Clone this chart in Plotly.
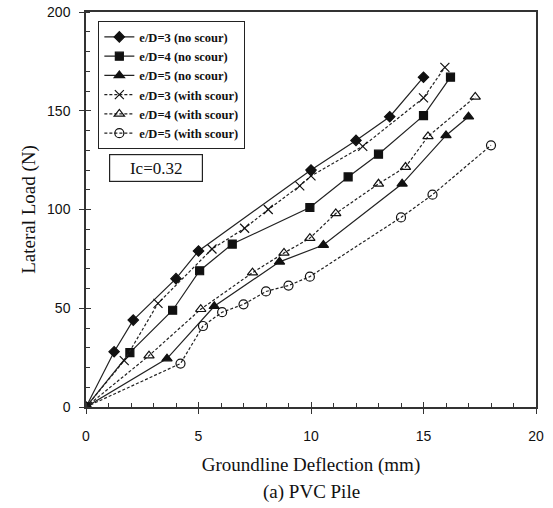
import plotly.graph_objects as go

# ---- data ----
x_ed3_ns = [0, 1.25, 2.1, 4.0, 5.0, 10.0, 12.0, 13.5, 15.0]
y_ed3_ns = [0, 28, 44, 65, 79, 120, 135, 147, 167]

x_ed4_ns = [0, 1.95, 3.85, 5.05, 6.5, 9.95, 11.65, 13.0, 15.0, 16.2]
y_ed4_ns = [0, 27.5, 49, 69, 82.5, 101, 116.5, 128, 147.5, 167]

x_ed5_ns = [0, 3.6, 5.7, 8.6, 10.55, 14.05, 16.0, 17.0]
y_ed5_ns = [0, 24.5, 51, 73.5, 82, 113, 137.5, 147]

x_ed3_ws = [0, 1.7, 3.2, 5.6, 7.05, 8.1, 9.5, 10.0, 12.3, 15.0, 15.95]
y_ed3_ws = [0, 23.5, 52.5, 80, 90.5, 100, 112, 117, 132, 156.5, 172]

x_ed4_ws = [0, 2.8, 5.1, 7.4, 8.8, 9.95, 11.1, 13.0, 14.2, 15.2, 17.3]
y_ed4_ws = [0, 26, 49.5, 68, 78, 85.5, 98, 113, 121.5, 137, 157]

x_ed5_ws = [0, 4.2, 5.2, 6.05, 7.0, 8.0, 9.0, 9.95, 14.0, 15.4, 18.0]
y_ed5_ws = [0, 22, 41, 48, 52, 58.5, 61.5, 66, 96, 107.5, 132.5]

names = ["e/D=3 (no scour)", "e/D=4 (no scour)", "e/D=5 (no scour)",
         "e/D=3 (with scour)", "e/D=4 (with scour)", "e/D=5 (with scour)"]

x_ticks = [0, 5, 10, 15, 20]
y_ticks = [0, 50, 100, 150, 200]

fig = go.Figure()

series = [
    (x_ed3_ns, y_ed3_ns, "diamond", "solid", 8),
    (x_ed4_ns, y_ed4_ns, "square", "solid", 8),
    (x_ed5_ns, y_ed5_ns, "triangle-up", "solid", 9),
    (x_ed3_ws, y_ed3_ws, "x-thin-open", "3px,2px", 9),
    (x_ed4_ws, y_ed4_ws, "triangle-up-open", "3px,2px", 9),
    (x_ed5_ws, y_ed5_ws, "circle-open", "3px,2px", 9),
]

for (xs, ys, sym, dash, sz), nm in zip(series, names):
    fig.add_trace(go.Scatter(
        x=xs, y=ys, name=nm, mode="lines+markers",
        line=dict(color="#222222", width=1.2, dash=dash),
        marker=dict(symbol=sym, size=sz, color="#111111",
                    line=dict(color="#111111", width=1.2)),
    ))

fig.add_annotation(
    x=3.09, y=121.0, xref="x", yref="y", text="Ic=0.32", showarrow=False,
    font=dict(family="Liberation Serif", size=17, color="#111111"),
    bordercolor="#222222", borderwidth=1.2, borderpad=5, bgcolor="white",
    width=82, height=16,
)

fig.add_annotation(
    x=0.5, y=-0.215, xref="paper", yref="paper", text="(a) PVC Pile",
    showarrow=False, xanchor="center", yanchor="middle",
    font=dict(family="Liberation Serif", size=19, color="#111111"),
)

axis_common = dict(
    showline=True, linecolor="#333333", linewidth=1.5, mirror=True,
    showgrid=False, zeroline=False, ticks="outside", ticklen=5,
    tickwidth=1.2, tickcolor="#333333", automargin=False,
    tickfont=dict(family="Liberation Sans", size=14, color="#111111"),
)

fig.update_xaxes(
    range=[0, 20], tickvals=x_ticks, ticktext=[str(v) for v in x_ticks],
    ticklabelstandoff=10,
    title=dict(text="Groundline Deflection (mm)", standoff=15,
               font=dict(family="Liberation Serif", size=19, color="#111111")),
    minor=dict(dtick=1, ticks="inside", ticklen=4, tickcolor="#333333", tickwidth=1),
    **axis_common,
)
fig.update_yaxes(
    range=[0, 200], tickvals=y_ticks, ticktext=[str(v) for v in y_ticks],
    ticklabelstandoff=6,
    title=dict(text="Lateral Load (N)", standoff=6,
               font=dict(family="Liberation Serif", size=19, color="#111111")),
    minor=dict(dtick=10, ticks="inside", ticklen=4, tickcolor="#333333", tickwidth=1),
    **axis_common,
)

# inner halves of the major ticks (so they cross the axis line)
fig.update_layout(
    xaxis2=dict(overlaying="x", matches="x", side="bottom", range=[0, 20],
                tickvals=x_ticks, showticklabels=False, ticks="inside",
                ticklen=5, tickwidth=1.2, tickcolor="#333333",
                showgrid=False, zeroline=False, showline=False),
    yaxis2=dict(overlaying="y", matches="y", side="left", range=[0, 200],
                tickvals=y_ticks, showticklabels=False, ticks="inside",
                ticklen=5, tickwidth=1.2, tickcolor="#333333",
                showgrid=False, zeroline=False, showline=False),
)
fig.add_trace(go.Scatter(x=[None], y=[None], xaxis="x2", yaxis="y2",
                         showlegend=False, hoverinfo="skip"))

fig.update_layout(
    width=553, height=508,
    margin=dict(l=86, r=17, t=12, b=101, autoexpand=False),
    paper_bgcolor="white", plot_bgcolor="white",
    showlegend=True,
    legend=dict(
        x=0.027, y=0.977, xanchor="left", yanchor="top",
        bgcolor="white", bordercolor="#222222", borderwidth=1.2,
        font=dict(family="Liberation Serif", size=12.5, color="#111111", weight="bold"),
        tracegroupgap=0, itemwidth=30,
    ),
)

fig.write_html("out.html", config={"displayModeBar": False},
               post_script="document.body.style.margin='0';")
